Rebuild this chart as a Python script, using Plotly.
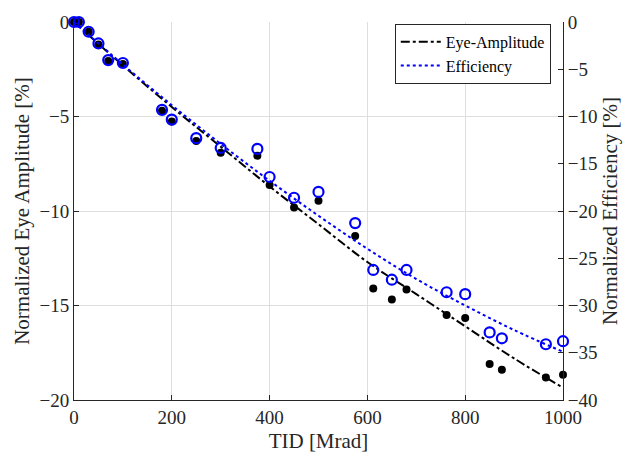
import plotly.graph_objects as go

# measured points
tid = [0, 10, 30, 50, 70, 100, 180, 200, 250, 300, 375, 400, 450, 500, 575,
       612, 650, 680, 762, 800, 850, 875, 965, 1000]
eye_amp = [0, 0, -0.52, -1.19, -2.07, -2.22, -4.7, -5.27, -6.3, -6.92, -7.08,
           -8.63, -9.82, -9.46, -11.32, -14.1, -14.68, -14.16, -15.5, -15.66,
           -18.09, -18.4, -18.81, -18.66]
efficiency = [0, 0, -1.03, -2.27, -4.03, -4.34, -9.3, -10.33, -12.29, -13.33,
              -13.43, -16.4, -18.6, -17.98, -21.28, -26.24, -27.27, -26.24,
              -28.6, -28.8, -32.85, -33.47, -34.1, -33.78]

# fit curves
fit_x = [0, 100, 200, 300, 400, 500, 600, 700, 800, 900, 1000]
fit_eye = [0, -2.3, -4.5, -6.6, -8.7, -10.7, -12.7, -14.4, -16.1, -17.8, -19.35]
fit_eff = [0, -4.5, -8.8, -12.9, -16.8, -20.5, -24.0, -27.2, -30.0, -32.6, -34.9]

x_ticks = [0, 200, 400, 600, 800, 1000]
left_ticks = [0, -5, -10, -15, -20]
right_ticks = [0, -5, -10, -15, -20, -25, -30, -35, -40]

FONT = "'Liberation Serif', 'Times New Roman', serif"

fig = go.Figure()
fig.add_trace(go.Scatter(x=fit_x, y=fit_eye, mode="lines", name="Eye-Amplitude",
                         line=dict(color="black", width=2, dash="dashdot", shape="spline"),
                         yaxis="y"))
fig.add_trace(go.Scatter(x=fit_x, y=fit_eff, mode="lines", name="Efficiency",
                         line=dict(color="#0000ff", width=2, dash="dot", shape="spline"),
                         yaxis="y2"))
fig.add_trace(go.Scatter(x=tid, y=eye_amp, mode="markers", showlegend=False,
                         marker=dict(symbol="circle", size=8, color="black"),
                         cliponaxis=False, yaxis="y"))
fig.add_trace(go.Scatter(x=tid, y=efficiency, mode="markers", showlegend=False,
                         marker=dict(symbol="circle-open", size=10, color="#0000ff",
                                     line=dict(width=2.2, color="#0000ff")),
                         cliponaxis=False, yaxis="y2"))

fig.update_layout(
    width=629, height=462,
    margin=dict(l=74, r=66, t=13, b=62),
    paper_bgcolor="white", plot_bgcolor="white",
    font=dict(family=FONT, size=20, color="#262626"),
    showlegend=True,
    legend=dict(x=0.975, y=0.995, xanchor="right", yanchor="top",
                bgcolor="white", bordercolor="#262626", borderwidth=1,
                font=dict(family=FONT, size=16, color="black"),
                tracegroupgap=0, itemwidth=40),
    xaxis=dict(range=[0, 1000], tickvals=x_ticks, ticks="inside", ticklen=5,
               tickcolor="#262626", showline=True, linecolor="#262626", linewidth=1,
               showgrid=True, gridcolor="#dedede", gridwidth=1, zeroline=False,
               tickfont=dict(family=FONT, size=19),
               title=dict(text="TID [Mrad]", font=dict(family=FONT, size=21), standoff=6)),
    yaxis=dict(range=[-20, 0], tickvals=left_ticks, ticks="inside", ticklen=5,
               tickcolor="#262626", showline=True, linecolor="#262626", linewidth=1,
               showgrid=True, gridcolor="#dedede", gridwidth=1, zeroline=False,
               tickfont=dict(family=FONT, size=19),
               title=dict(text="Normalized Eye Amplitude [%]", font=dict(family=FONT, size=21), standoff=4)),
    yaxis2=dict(range=[-40, 0], tickvals=right_ticks, ticks="inside", ticklen=5,
                tickcolor="#262626", overlaying="y", side="right",
                showline=True, linecolor="#262626", linewidth=1,
                showgrid=False, zeroline=False,
                tickfont=dict(family=FONT, size=19),
                title=dict(text="Normalized Efficiency [%]", font=dict(family=FONT, size=21), standoff=4)),
)

fig.write_html("out.html")
